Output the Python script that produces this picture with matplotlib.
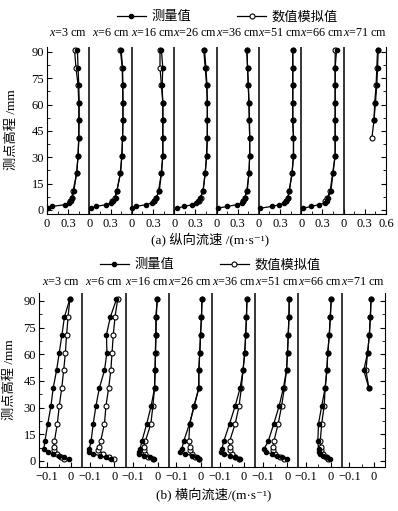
import numpy as np
import matplotlib.pyplot as plt

plt.rcParams['font.family'] = ['Liberation Serif', 'Noto Sans CJK SC', 'DejaVu Serif']
plt.rcParams['mathtext.fontset'] = 'custom'
plt.rcParams['mathtext.rm'] = 'Liberation Serif'
plt.rcParams['mathtext.it'] = 'Liberation Serif:italic'
plt.rcParams['axes.unicode_minus'] = True

# stations (cm)
stations = ['3', '6', '16', '26', '36', '51', '66', '71']

# heights (mm)
z_meas = [1, 2, 3, 4, 5, 7, 11, 21, 31, 41, 51, 61, 71, 81, 91]
z_sim_a = [5, 7, 11, 21, 31, 41, 51, 61, 71, 81, 91]
z_sim_b = [1, 2, 4, 6, 8, 11, 21, 31, 41, 51, 61, 71, 81, 91]
z_last_sim = [41, 51, 61, 71, 81, 91]
z_last_meas_a = [51, 61, 71, 81, 91]
z_last_meas_b = [41, 51, 61, 71, 81, 91]

# (a) longitudinal velocity, m/s
u_meas = [
    [0.01, 0.07, 0.25, 0.31, 0.34, 0.36, 0.38, 0.42, 0.44, 0.45, 0.455, 0.455, 0.45, 0.44, 0.43],
    [0.02, 0.09, 0.24, 0.30, 0.33, 0.37, 0.39, 0.44, 0.46, 0.47, 0.475, 0.475, 0.475, 0.47, 0.45],
    [0.01, 0.06, 0.20, 0.28, 0.32, 0.35, 0.39, 0.42, 0.44, 0.44, 0.44, 0.44, 0.43, 0.44, 0.42],
    [0.04, 0.14, 0.26, 0.31, 0.34, 0.37, 0.41, 0.44, 0.46, 0.47, 0.47, 0.47, 0.46, 0.44, 0.42],
    [0.02, 0.15, 0.29, 0.36, 0.38, 0.40, 0.435, 0.46, 0.47, 0.47, 0.465, 0.46, 0.45, 0.44, 0.43],
    [0.02, 0.18, 0.29, 0.36, 0.38, 0.41, 0.43, 0.47, 0.49, 0.49, 0.48, 0.48, 0.48, 0.48, 0.48],
    [0.03, 0.14, 0.25, 0.34, 0.36, 0.38, 0.42, 0.45, 0.48, 0.48, 0.48, 0.48, 0.48, 0.48, 0.50],
]
u_sim = [
    [0.33, 0.35, 0.37, 0.42, 0.44, 0.45, 0.45, 0.45, 0.44, 0.41, 0.39],
    [0.32, 0.36, 0.39, 0.44, 0.46, 0.47, 0.475, 0.475, 0.47, 0.465, 0.44],
    [0.31, 0.35, 0.38, 0.42, 0.44, 0.44, 0.44, 0.44, 0.42, 0.40, 0.40],
    [0.35, 0.375, 0.41, 0.44, 0.46, 0.47, 0.47, 0.47, 0.465, 0.45, 0.43],
    [0.38, 0.40, 0.43, 0.46, 0.47, 0.47, 0.465, 0.46, 0.45, 0.44, 0.43],
    [0.38, 0.41, 0.43, 0.47, 0.49, 0.49, 0.48, 0.48, 0.48, 0.48, 0.48],
    [0.34, 0.37, 0.41, 0.445, 0.48, 0.48, 0.48, 0.48, 0.48, 0.48, 0.48],
]
u_last_sim = [0.40, 0.43, 0.44, 0.46, 0.47, 0.48]
u_last_meas = [0.43, 0.45, 0.47, 0.48, 0.49]

# (b) transverse velocity, m/s
v_meas = [
    [-0.007, -0.027, -0.049, -0.075, -0.093, -0.111, -0.107, -0.095, -0.082, -0.073, -0.059, -0.048, -0.037, -0.027, -0.005],
    [-0.015, -0.035, -0.06, -0.085, -0.105, -0.102, -0.095, -0.086, -0.075, -0.061, -0.04, -0.03, -0.032, -0.016, 0.009],
    [-0.015, -0.03, -0.055, -0.075, -0.074, -0.071, -0.064, -0.044, -0.026, -0.012, -0.01, -0.009, -0.007, -0.007, -0.001],
    [-0.008, -0.015, -0.036, -0.063, -0.083, -0.077, -0.07, -0.046, -0.027, -0.008, -0.008, -0.004, -0.001, 0.003, 0.005],
    [-0.018, -0.038, -0.059, -0.08, -0.093, -0.09, -0.083, -0.059, -0.036, -0.016, -0.004, 0.003, 0.007, 0.01, 0.012],
    [-0.003, -0.023, -0.044, -0.064, -0.085, -0.094, -0.078, -0.055, -0.033, -0.016, -0.003, 0.001, 0.004, 0.007, 0.008],
    [-0.001, -0.015, -0.029, -0.042, -0.048, -0.049, -0.052, -0.049, -0.036, -0.022, -0.015, -0.011, -0.005, -0.001, 0.003],
]
v_sim = [
    [-0.027, -0.042, -0.059, -0.07, -0.07, -0.068, -0.056, -0.048, -0.038, -0.03, -0.023, -0.018, -0.012, -0.005],
    [0.0, -0.02, -0.045, -0.066, -0.063, -0.056, -0.04, -0.034, -0.023, -0.014, -0.009, -0.004, 0.003, 0.014],
    [-0.02, -0.037, -0.05, -0.057, -0.057, -0.05, -0.027, -0.019, -0.012, -0.01, -0.008, -0.006, -0.005, -0.001],
    [-0.008, -0.022, -0.036, -0.046, -0.046, -0.049, -0.045, -0.027, -0.008, -0.008, -0.004, -0.001, 0.003, 0.005],
    [-0.02, -0.035, -0.05, -0.059, -0.059, -0.059, -0.036, -0.02, -0.011, -0.004, 0.003, 0.007, 0.01, 0.012],
    [-0.015, -0.03, -0.05, -0.057, -0.057, -0.055, -0.037, -0.023, -0.012, -0.003, 0.001, 0.004, 0.007, 0.008],
    [-0.01, -0.02, -0.03, -0.038, -0.04, -0.042, -0.036, -0.026, -0.022, -0.015, -0.011, -0.005, -0.001, 0.003],
]
v_last_sim = [-0.02, -0.032, -0.025, -0.018, -0.014, -0.011]
v_last_meas = [-0.02, -0.041, -0.025, -0.018, -0.014, -0.011]

meas_style = dict(color='k', lw=0.9, marker='o', ms=3, mfc='k', mec='k')
sim_style = dict(color='k', lw=0.9, marker='o', ms=3.6, mfc='white', mec='k', mew=0.8)

fig = plt.figure(figsize=(3.98, 5.11), dpi=100)
ax1 = fig.add_axes([47/398, 1-214/511, 339/398, 167/511])
ax2 = fig.add_axes([39/398, 1-467/511, 346/398, 174/511])

def frame(ax, W, n, ylo, yhi, title_y, xt, xl, xminor):
    ax.set_xlim(0, n*W)
    ax.set_ylim(ylo, yhi)
    ax.spines['top'].set_visible(False)
    for k in range(1, n):
        ax.axvline(k*W, color='k', lw=1.1)
    ax.set_xticks(xt)
    ax.set_xticklabels(xl, fontsize=9)
    ax.set_xticks(xminor, minor=True)
    ax.set_yticks(range(0, 91, 15))
    ax.set_yticks(np.arange(0, 92, 7.5), minor=True)
    ax.tick_params(axis='y', labelsize=9, pad=2)
    ax.tick_params(which='both', direction='in', right=True, top=False)
    ax.tick_params(which='major', length=3.5)
    ax.tick_params(which='minor', length=2)
    ax.tick_params(axis='x', pad=3)
    for k in range(n):
        ax.text(k*W + W/2, title_y, '$x$=%s cm' % stations[k], transform=ax.get_xaxis_transform(),
                ha='center', va='center', fontsize=8.7)

# (a)
Wa = 0.6
xt = []
xl = []
xm = []
for k in range(8):
    xt += [k*Wa, k*Wa + 0.3]
    xl += ['0', '0.3']
    xm += [k*Wa + 0.15, k*Wa + 0.45]
xt.append(8*Wa)
xl.append('0.6')
frame(ax1, Wa, 8, -2.3, 92.8, 1.084, xt, xl, xm)
for k in range(7):
    ax1.plot(np.array(u_sim[k]) + k*Wa, z_sim_a, **sim_style)
    ax1.plot(np.array(u_meas[k]) + k*Wa, z_meas, **meas_style)
ax1.plot(np.array(u_last_sim) + 7*Wa, z_last_sim, **sim_style)
ax1.plot(np.array(u_last_meas) + 7*Wa, z_last_meas_a, **meas_style)

# (b)
Wb = 0.177
lo = -0.131
xt = []
xl = []
xm = []
for k in range(8):
    xt += [k*Wb - lo - 0.1, k*Wb - lo]
    xl += ['\u22120.1', '0']
    xm += [k*Wb - lo - 0.05]
frame(ax2, Wb, 8, -3.4, 94.5, 1.063, xt, xl, xm)
for k in range(7):
    ax2.plot(np.array(v_sim[k]) + k*Wb - lo, z_sim_b, **sim_style)
    ax2.plot(np.array(v_meas[k]) + k*Wb - lo, z_meas, **meas_style)
ax2.plot(np.array(v_last_sim) + 7*Wb - lo, z_last_sim, **sim_style)
ax2.plot(np.array(v_last_meas) + 7*Wb - lo, z_last_meas_b, **meas_style)

# legends
hm, = ax1.plot([], [], **meas_style)
hs, = ax1.plot([], [], **sim_style)
for yy, xx in [(1-17/511, 0.571), (1-265/511, 0.528)]:
    fig.legend([hm, hs], ['测量值', '数值模拟值'], ncol=2, loc='center', bbox_to_anchor=(xx, yy),
               frameon=False, fontsize=9.5, handlelength=2.2, columnspacing=3.5, handletextpad=0.4)

fig.text(0.528, 1-240/511, '(a) 纵向流速 /(m·s\u207b\u00b9)', ha='center', va='center', fontsize=9.5)
fig.text(0.538, 1-495/511, '(b) 横向流速/(m·s\u207b\u00b9)', ha='center', va='center', fontsize=9.5)
fig.text(12/398, 1-130/511, '测点高程 /mm', rotation=90, ha='center', va='center', fontsize=9.5)
fig.text(10/398, 1-380/511, '测点高程 /mm', rotation=90, ha='center', va='center', fontsize=9.5)

fig.savefig('out.png', dpi=100)
